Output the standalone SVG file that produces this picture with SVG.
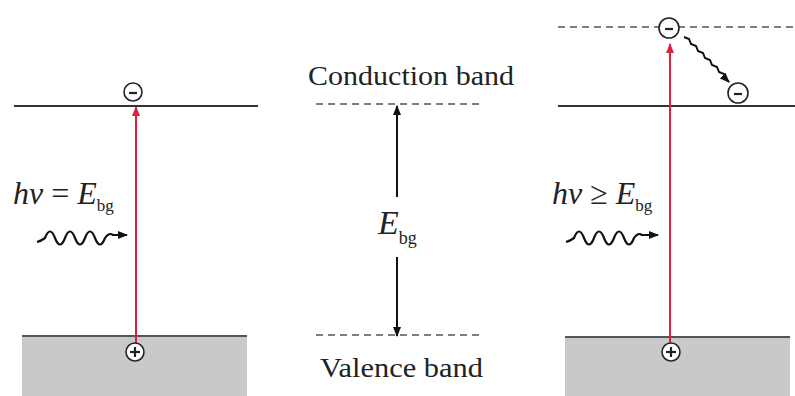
<svg xmlns="http://www.w3.org/2000/svg" width="795" height="396" viewBox="0 0 795 396">
<style>
.band{stroke:#333;stroke-width:2;fill:none}
.dash{stroke:#555;stroke-width:1.5;stroke-dasharray:7 5;fill:none}
.red{stroke:#e0203a;stroke-width:2;fill:none}
.blk{stroke:#111;stroke-width:2;fill:none}
.wave{stroke:#111;stroke-width:2.2;fill:none;stroke-linejoin:round}
.val{fill:#c9c9c9;stroke:none}
.valtop{stroke:#555;stroke-width:2}
.chg{fill:#fff;stroke:#222;stroke-width:1.6}
.sign{stroke:#222;stroke-width:2.2}
.lbl{font-family:"Liberation Serif","Times New Roman",serif;fill:#222}
.it{font-style:italic}
</style>
<defs>
<marker id="ar" markerWidth="10" markerHeight="10" refX="9" refY="5" orient="auto" markerUnits="userSpaceOnUse"><path d="M0,1 L10,5 L0,9 Z" fill="#e0203a"/></marker>
<marker id="ab" markerWidth="10" markerHeight="10" refX="9" refY="5" orient="auto" markerUnits="userSpaceOnUse"><path d="M0,1 L10,5 L0,9 Z" fill="#111"/></marker>
</defs>
<rect width="795" height="396" fill="#fff"/>

<g id="left-panel">
<rect class="val" x="22" y="336" width="225" height="60"/>
<line class="valtop" x1="22" y1="336" x2="247" y2="336"/>
<line class="band" x1="14" y1="106" x2="258" y2="106"/>
</g>

<g id="center-panel">
<line class="dash" x1="316" y1="104" x2="483" y2="104"/>
<line class="dash" x1="316" y1="335" x2="483" y2="335"/>
<text class="lbl" x="308" y="85" font-size="27" textLength="206" lengthAdjust="spacingAndGlyphs">Conduction band</text>
<text class="lbl" x="320" y="377" font-size="27" textLength="163" lengthAdjust="spacingAndGlyphs">Valence band</text>
<text class="lbl" x="378" y="234"><tspan class="it" font-size="34">E</tspan><tspan font-size="18" dy="10">bg</tspan></text>
</g>

<g id="right-panel">
<rect class="val" x="565" y="337" width="225" height="59"/>
<line class="valtop" x1="565" y1="337" x2="790" y2="337"/>
<line class="band" x1="558" y1="106" x2="795" y2="106"/>
<line class="dash" x1="558" y1="27" x2="795" y2="27"/>
</g>

<g id="connectors">
<line class="red" x1="136" y1="344" x2="136" y2="107" marker-end="url(#ar)"/>
<line class="red" x1="670" y1="344" x2="670" y2="44" marker-end="url(#ar)"/>
<line class="blk" x1="397" y1="197" x2="397" y2="106" marker-end="url(#ab)"/>
<line class="blk" x1="397" y1="257" x2="397" y2="336" marker-end="url(#ab)"/>
<path class="blk" stroke-width="2.6" stroke-linejoin="miter" d="M684,37 l5,2 l2,5 l5,2 l2,5 l5,2 l2,5 l5,2 l2,5 l5,2 l2,5 l5,2 l2,5 l3,3" marker-end="url(#ab)"/>
<path class="wave" d="M37,242 q4,-1 8,-4 q5,-13 10,0 q5,13 10,0 q5,-13 10,0 q5,13 10,0 q5,-13 10,0 q5,13 10,0 q4,-6 8,-3 l14,0" marker-end="url(#ab)"/>
<path class="wave" d="M566,242 q4,-1 8,-4 q5,-13 10,0 q5,13 10,0 q5,-13 10,0 q5,13 10,0 q5,-13 10,0 q5,13 10,0 q4,-6 8,-3 l16,0" marker-end="url(#ab)"/>
</g>

<g id="label-left">
<text class="lbl" x="13" y="204"><tspan class="it" font-size="32">hν</tspan><tspan font-size="32"> = </tspan><tspan class="it" font-size="32">E</tspan><tspan font-size="17" dy="7">bg</tspan></text>
</g>
<g id="label-right">
<text class="lbl" x="552" y="204"><tspan class="it" font-size="32">hν</tspan><tspan font-size="32"> ≥ </tspan><tspan class="it" font-size="32">E</tspan><tspan font-size="17" dy="7">bg</tspan></text>
</g>

<g id="electron-left">
<circle class="chg" cx="133" cy="92" r="9"/>
<line class="sign" x1="129" y1="93" x2="137" y2="93"/>
</g>
<g id="hole-left">
<circle class="chg" cx="135" cy="352" r="9"/>
<line class="sign" x1="130" y1="352" x2="140" y2="352"/>
<line class="sign" x1="135" y1="347" x2="135" y2="357"/>
</g>
<g id="electron-right-top">
<circle class="chg" cx="669" cy="28" r="10"/>
<line class="sign" x1="665" y1="29" x2="673" y2="29"/>
</g>
<g id="electron-right-bottom">
<circle class="chg" cx="738" cy="93" r="10"/>
<line class="sign" x1="734" y1="94" x2="742" y2="94"/>
</g>
<g id="hole-right">
<circle class="chg" cx="671" cy="352" r="9"/>
<line class="sign" x1="666" y1="352" x2="676" y2="352"/>
<line class="sign" x1="671" y1="347" x2="671" y2="357"/>
</g>
</svg>
